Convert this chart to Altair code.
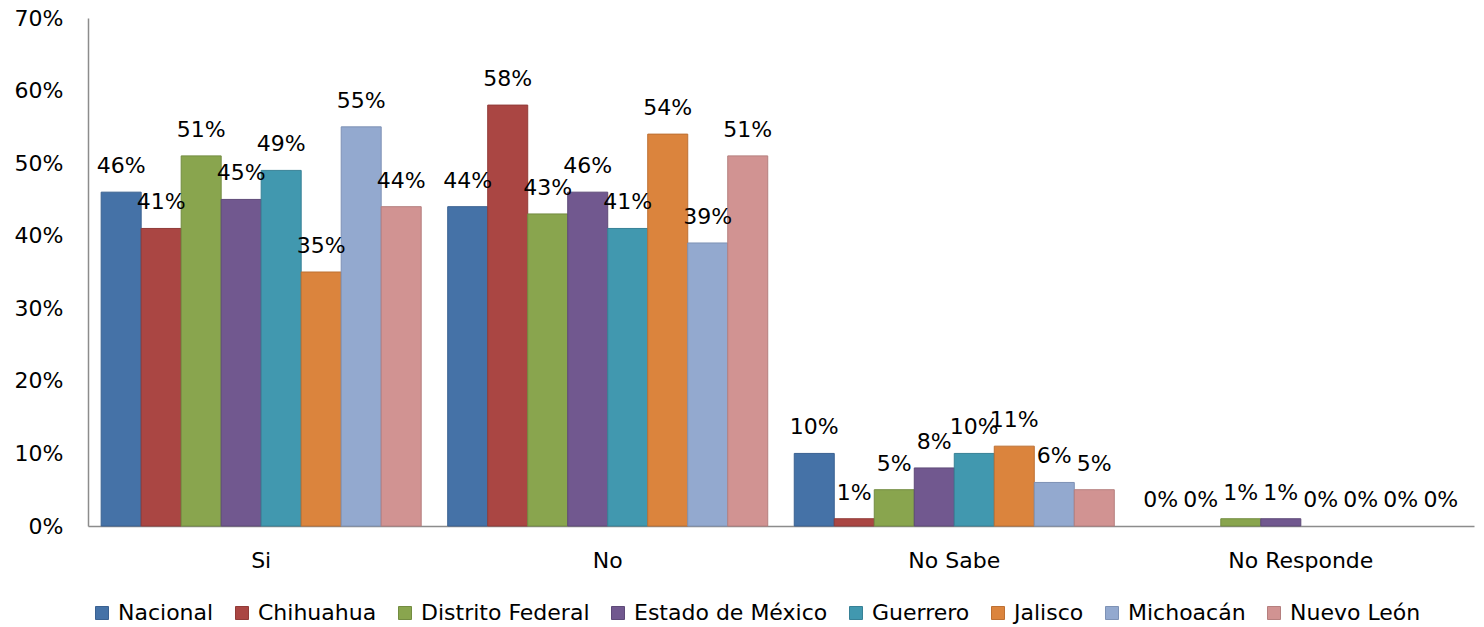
import altair as alt
import pandas as pd

categories = ["Si", "No", "No Sabe", "No Responde"]
series = ["Nacional", "Chihuahua", "Distrito Federal", "Estado de México",
          "Guerrero", "Jalisco", "Michoacán", "Nuevo León"]
values = {
    "Si":          [46, 41, 51, 45, 49, 35, 55, 44],
    "No":          [44, 58, 43, 46, 41, 54, 39, 51],
    "No Sabe":     [10, 1, 5, 8, 10, 11, 6, 5],
    "No Responde": [0, 0, 1, 1, 0, 0, 0, 0],
}
fills = ["#4572A7", "#AA4643", "#89A54E", "#71588F", "#4198AF", "#DB843D", "#93A9CF", "#D19392"]
strokes = ["#3A6191", "#913B38", "#738C41", "#5E4A78", "#378196", "#BD7033", "#7E92B5", "#B57F7E"]

rows = []
for c in categories:
    for s, v in zip(series, values[c]):
        rows.append({"cat": c, "serie": s, "val": v, "lbl": f"{v}%"})
df = pd.DataFrame(rows)

FONT = "DejaVu Sans"

x = alt.X("cat:N", sort=categories, title=None,
          scale=alt.Scale(domain=categories, paddingInner=0.0765, paddingOuter=0.038),
          axis=alt.Axis(labelAngle=0, labelFontSize=22, labelFont=FONT, labelColor="#000000",
                        ticks=False, domainColor="#8C8C8C", domainWidth=1.5, labelPadding=24))
xo = alt.XOffset("serie:N", sort=series,
                 scale=alt.Scale(domain=series, paddingInner=0, paddingOuter=0))
y = alt.Y("val:Q", title=None,
          scale=alt.Scale(domain=[0, 70], nice=False),
          axis=alt.Axis(values=[0, 10, 20, 30, 40, 50, 60, 70], labelExpr="datum.value + '%'",
                        grid=False, ticks=False, domainColor="#8C8C8C", domainWidth=1.5,
                        labelFontSize=22, labelFont=FONT, labelColor="#000000", labelPadding=25))

legend = alt.Legend(title=None, orient="none", direction="horizontal", legendX=3, legendY=584,
                    symbolType="square", symbolSize=169, symbolStrokeWidth=1,
                    labelFontSize=22, labelFont=FONT, labelColor="#000000", labelLimit=0,
                    labelOffset=5, columnPadding=17, columns=8)

bars = alt.Chart(df).transform_filter("datum.val > 0").mark_bar(strokeWidth=1).encode(
    x=x, xOffset=xo, y=y,
    fill=alt.Fill("serie:N", sort=series, scale=alt.Scale(domain=series, range=fills), legend=legend),
    stroke=alt.Stroke("serie:N", sort=series, scale=alt.Scale(domain=series, range=strokes), legend=legend),
)

labels = alt.Chart(df).mark_text(fontSize=22, font=FONT, color="#000000", baseline="middle", dy=-26).encode(
    x=x, xOffset=xo, y=y, text="lbl:N"
)

chart = alt.layer(bars, labels).properties(
    width=1386, height=508,
    autosize=alt.AutoSizeParams(type="none"),
    padding={"left": 80, "top": 10, "right": 2, "bottom": 100},
    background="#FFFFFF",
).configure_view(stroke=None)

chart.save("out.html", embed_options={"renderer": "svg", "actions": False})
